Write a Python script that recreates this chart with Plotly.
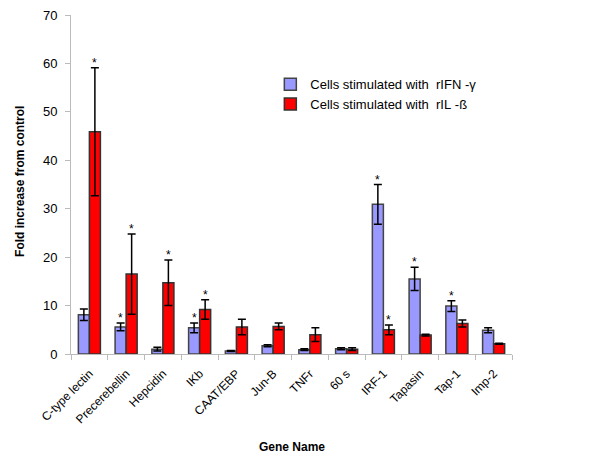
import plotly.graph_objects as go

genes = ["C-type lectin", "Precerebellin", "Hepcidin", "IKb", "CAAT/EBP", "Jun-B",
         "TNFr", "60 s", "IRF-1", "Tapasin", "Tap-1", "Imp-2"]
ifn_vals = [8.1, 5.6, 1.0, 5.4, 0.6, 1.7, 0.9, 1.1, 30.9, 15.5, 9.9, 4.9]
ifn_err = [1.2, 0.8, 0.4, 1.0, 0.1, 0.2, 0.2, 0.2, 4.1, 2.4, 1.1, 0.5]
il_vals = [45.9, 16.5, 14.7, 9.2, 5.6, 5.7, 4.0, 1.0, 5.0, 3.9, 6.3, 2.1]
il_err = [13.2, 8.3, 4.7, 2.0, 1.6, 0.7, 1.4, 0.3, 1.0, 0.2, 0.7, 0.1]
ifn_star = [False, True, False, True, False, False, False, False, True, True, True, False]
il_star = [True, True, True, True, False, False, False, False, True, False, False, False]

FONT = "Liberation Sans, Arial"

fig = go.Figure()
fig.add_trace(go.Bar(
    x=genes, y=ifn_vals, name="Cells stimulated with\u00a0\u00a0rIFN\u00a0-\u03b3",
    marker=dict(color="#9999FF", line=dict(color="#444444", width=1.5)),
    error_y=dict(type="data", array=ifn_err, color="black", thickness=1.5, width=4),
))
fig.add_trace(go.Bar(
    x=genes, y=il_vals, name="Cells stimulated with\u00a0\u00a0rIL\u00a0-\u00df",
    marker=dict(color="#FF0000", line=dict(color="#333333", width=1.5)),
    error_y=dict(type="data", array=il_err, color="black", thickness=1.5, width=4),
))

annotations = []
for g, v, e, s in zip(genes, ifn_vals, ifn_err, ifn_star):
    if s:
        annotations.append(dict(x=g, y=v + e, xref="x", yref="y", text="*", showarrow=False,
                                xshift=-5.5, yanchor="bottom", yshift=-4,
                                font=dict(size=12, color="black", family=FONT)))
for g, v, e, s in zip(genes, il_vals, il_err, il_star):
    if s:
        annotations.append(dict(x=g, y=v + e, xref="x", yref="y", text="*", showarrow=False,
                                xshift=5.5, yanchor="bottom", yshift=-4,
                                font=dict(size=12, color="black", family=FONT)))

annotations.append(dict(text="<b>Fold increase from control</b>", xref="paper", yref="paper",
                        x=-0.116, y=0.51, textangle=-90, showarrow=False,
                        xanchor="center", yanchor="middle",
                        font=dict(size=12, color="black", family=FONT)))
annotations.append(dict(text="<b>Gene Name</b>", xref="paper", yref="paper",
                        x=0.5, y=-0.274, showarrow=False,
                        xanchor="center", yanchor="middle",
                        font=dict(size=12, color="black", family=FONT)))

fig.update_layout(
    width=600, height=469,
    margin=dict(l=63, r=96, t=7, b=123),
    paper_bgcolor="white", plot_bgcolor="white",
    barmode="group", bargap=0.40, bargroupgap=0,
    font=dict(family=FONT, color="black"),
    showlegend=True,
    legend=dict(x=0.452, y=0.84, xanchor="left", yanchor="top",
                font=dict(size=13, color="black"), bgcolor="rgba(0,0,0,0)",
                tracegroupgap=0, itemwidth=30),
    annotations=annotations,
    xaxis=dict(
        automargin=False,
        showline=True, linecolor="#BBBBBB", linewidth=1,
        ticks="outside", tickson="boundaries", ticklen=5, tickcolor="#BBBBBB",
        tickangle=-45, tickfont=dict(size=12, color="black"),
        ticklabelstandoff=7,
        showgrid=False,
    ),
    yaxis=dict(
        automargin=False,
        range=[0, 70], dtick=10, showline=True, linecolor="#BBBBBB", linewidth=1,
        ticks="outside", ticklen=5, tickcolor="#BBBBBB",
        tickfont=dict(size=13, color="black"), showgrid=False, zeroline=False,
        ticklabeloverflow="allow", ticklabelstandoff=5,
    ),
)

fig.write_html("out.html")
